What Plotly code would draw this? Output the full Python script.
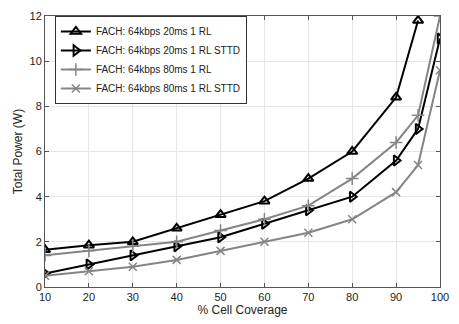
import plotly.graph_objects as go

coverage = [10, 20, 30, 40, 50, 60, 70, 80, 90, 95, 100]
s1_x = [10, 20, 30, 40, 50, 60, 70, 80, 90, 95]
s1_y = [1.65, 1.85, 2.0, 2.6, 3.2, 3.8, 4.8, 6.0, 8.4, 11.8]
s2_y = [0.6, 1.0, 1.4, 1.8, 2.2, 2.8, 3.4, 4.0, 5.6, 7.0, 11.0]
s3_y = [1.4, 1.6, 1.8, 2.0, 2.5, 3.0, 3.6, 4.8, 6.4, 7.6, 12.0]
s4_y = [0.5, 0.7, 0.9, 1.2, 1.6, 2.0, 2.4, 3.0, 4.2, 5.4, 9.6]
names = ["FACH: 64kbps 20ms 1 RL", "FACH: 64kbps 20ms 1 RL STTD",
         "FACH: 64kbps 80ms 1 RL", "FACH: 64kbps 80ms 1 RL STTD"]
x_ticks = [10, 20, 30, 40, 50, 60, 70, 80, 90, 100]
y_ticks = [0, 2, 4, 6, 8, 10, 12]

BLACK = "#000000"
GRAY = "#858585"

fig = go.Figure()
fig.add_trace(go.Scatter(x=s1_x, y=s1_y, name=names[0], mode="lines+markers",
                         line=dict(color=BLACK, width=2),
                         marker=dict(symbol="triangle-up-open", size=9, color=BLACK, line=dict(width=2))))
fig.add_trace(go.Scatter(x=coverage, y=s2_y, name=names[1], mode="lines+markers",
                         line=dict(color=BLACK, width=2),
                         marker=dict(symbol="triangle-right-open", size=9, color=BLACK, line=dict(width=2))))
fig.add_trace(go.Scatter(x=coverage, y=s3_y, name=names[2], mode="lines+markers",
                         line=dict(color=GRAY, width=2),
                         marker=dict(symbol="cross-thin-open", size=9, color=GRAY, line=dict(width=1.5, color=GRAY))))
fig.add_trace(go.Scatter(x=coverage, y=s4_y, name=names[3], mode="lines+markers",
                         line=dict(color=GRAY, width=2),
                         marker=dict(symbol="x-thin-open", size=8, color=GRAY, line=dict(width=1.5, color=GRAY))))

axis_common = dict(showgrid=True, gridcolor="#e6e6e6", gridwidth=1, zeroline=False,
                   showline=True, linecolor="#555555", linewidth=1, mirror="ticks",
                   ticks="inside", ticklen=4, tickcolor="#555555",
                   tickfont=dict(family="Arial, Liberation Sans", size=11, color="#222222"))

fig.update_layout(
    width=459, height=324,
    margin=dict(l=45, r=10, t=10, b=34),
    paper_bgcolor="white", plot_bgcolor="white",
    font=dict(family="Arial, Liberation Sans", size=11, color="#222222"),
    showlegend=True,
    legend=dict(x=0.025, y=1.0, xanchor="left", yanchor="top",
                bgcolor="white", bordercolor="#333333", borderwidth=1,
                font=dict(size=10), tracegroupgap=0, itemwidth=30),
)
fig.update_xaxes(range=[10, 100], tickvals=x_ticks,
                 title=dict(text="% Cell Coverage", standoff=2, font=dict(size=12)), **axis_common)
fig.update_yaxes(range=[0, 12], tickvals=y_ticks,
                 title=dict(text="Total Power (W)", standoff=4, font=dict(size=12)), **axis_common)

fig.write_html("out.html", config={"displayModeBar": False},
               post_script="document.body.style.margin='0';")
